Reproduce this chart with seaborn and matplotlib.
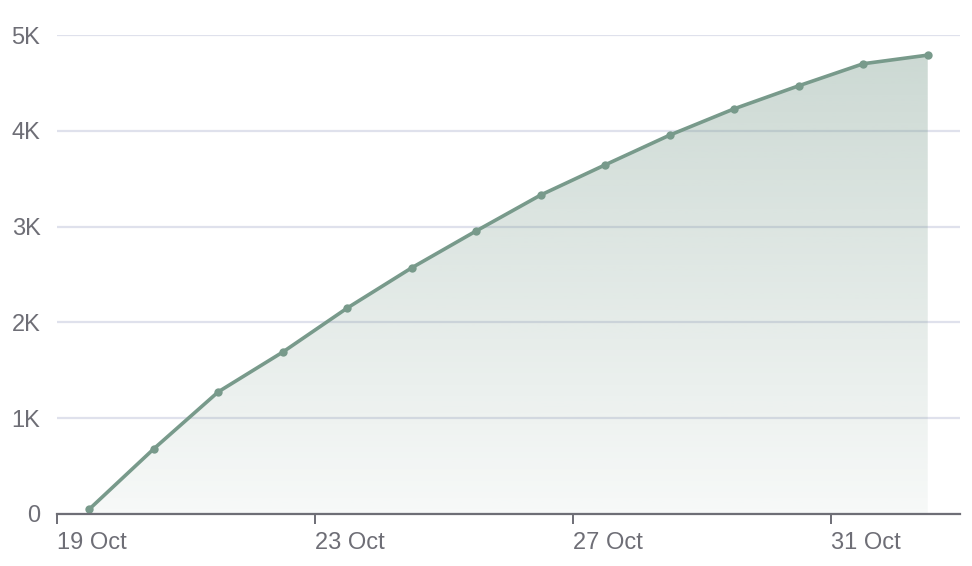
import numpy as np
import pandas as pd
import matplotlib
matplotlib.use("Agg")
import matplotlib.pyplot as plt
import matplotlib.dates as mdates
from matplotlib.ticker import FuncFormatter
import seaborn as sns

# Data (cumulative count, one point per day at noon)
dates = pd.date_range("2023-10-19 12:00", periods=14, freq="D")
values = [50, 680, 1275, 1690, 2150, 2570, 2955, 3330, 3645, 3955, 4230, 4470, 4700, 4790]
x_ticks = pd.to_datetime(["2023-10-19", "2023-10-23", "2023-10-27", "2023-10-31"])
y_ticks = [0, 1000, 2000, 3000, 4000, 5000]

line_color = "#789a8b"
text_color = "#6e6e76"
grid_color = "#dfe1ec"

sns.set_style("white")
plt.rcParams["font.family"] = ["Liberation Sans", "DejaVu Sans"]

df = pd.DataFrame({"date": dates, "value": values})

fig = plt.figure(figsize=(9.72, 5.66), dpi=100)
ax = fig.add_axes([57 / 972, 1 - 514 / 566, (960 - 57) / 972, (514 - 35) / 566])

ax.set_xlim(pd.Timestamp("2023-10-19"), pd.Timestamp("2023-11-02"))
ax.set_ylim(0, 5000)

# gradient fill under the line
poly = ax.fill_between(df["date"], df["value"], 0, color="none", lw=0)
grad = np.zeros((256, 1, 4))
grad[:, 0, :3] = matplotlib.colors.to_rgb(line_color)
grad[:, 0, 3] = np.linspace(0.39, 0.06, 256)
x0, x1 = mdates.date2num(df["date"].iloc[0]), mdates.date2num(df["date"].iloc[-1])
im = ax.imshow(grad, aspect="auto", extent=[x0, x1, 0, 5000], origin="upper", zorder=1)
im.set_clip_path(poly.get_paths()[0], transform=ax.transData)

sns.lineplot(data=df, x="date", y="value", ax=ax, color=line_color, lw=2.6,
             marker="o", markersize=6, markeredgewidth=0, zorder=3)

ax.set_yticks(y_ticks)
ax.yaxis.set_major_formatter(FuncFormatter(lambda v, p: "0" if v == 0 else f"{int(v / 1000)}K"))
ax.set_xticks(x_ticks)
ax.xaxis.set_major_formatter(mdates.DateFormatter("%-d %b"))

ax.grid(axis="y", color=grid_color, lw=1.6)
for l in ax.get_ygridlines():
    l.set_zorder(2)
ax.set_xlabel("")
ax.set_ylabel("")

for s in ["top", "right", "left"]:
    ax.spines[s].set_visible(False)
ax.spines["bottom"].set_color(text_color)
ax.spines["bottom"].set_linewidth(1.6)
ax.spines["bottom"].set_zorder(4)

ax.tick_params(axis="x", length=7, width=1.4, color=text_color, labelcolor=text_color,
               labelsize=17, pad=6, bottom=True)
ax.tick_params(axis="y", length=0, labelcolor=text_color, labelsize=17, pad=12)
for lbl in ax.get_xticklabels():
    lbl.set_horizontalalignment("left")

fig.savefig("out.png", dpi=100, facecolor="white")
